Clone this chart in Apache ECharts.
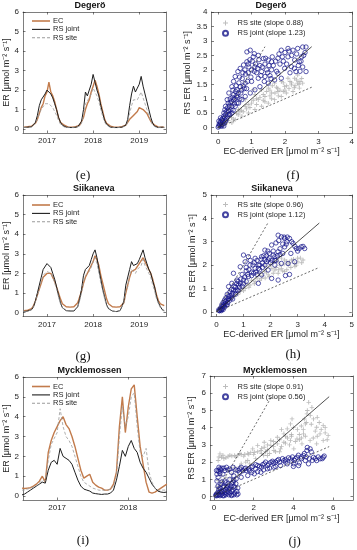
<!DOCTYPE html>
<html><head><meta charset="utf-8">
<script src="https://cdn.jsdelivr.net/npm/echarts@6/dist/echarts.min.js"></script>
<style>html,body{margin:0;padding:0;background:#fff}#c{width:357px;height:550px}</style>
</head><body><div id="c"></div>
<script>
// ---------- time axis: half-month steps starting at the given decimal year ----------
const STEP = 1 / 24;
const DEG_START = 2016.5;
const SIK_START = 2016.5;
const MYC_START = 2016.5;

// ---------- Degerö ER time series ----------
const DEG_EC = [0.1,0.1,0.12,0.1,0.15,0.2, 0.3,0.5,0.8,1.1,1.3,1.7, 1.9,2.4,1.9,1.7,1.4,1.0,
  0.6,0.35,0.25,0.2,0.15,0.1, 0.1,0.1,0.1,0.12,0.15,0.2, 0.3,0.6,1.0,1.3,1.5,1.9,
  2.2,2.5,2.2,1.8,1.3,0.9, 0.5,0.3,0.2,0.15,0.1,0.1, 0.1,0.1,0.1,0.12,0.15,0.2,
  0.3,0.5,0.6,0.7,0.8,0.9, 1.1,1.2,1.0,0.9,0.8,0.6, 0.4,0.3,0.2,0.15,0.1,0.1, 0.1,0.1];
const DEG_JOINT = [0.08,0.1,0.1,0.1,0.12,0.2, 0.35,0.7,1.2,1.5,1.4,1.8, 2.0,1.9,1.8,1.6,1.3,1.0,
  0.6,0.35,0.2,0.15,0.1,0.08, 0.08,0.1,0.08,0.1,0.12,0.2, 0.4,1.0,1.9,1.7,2.0,2.3,
  2.8,2.4,2.0,1.7,1.2,0.8, 0.45,0.25,0.15,0.1,0.08,0.08, 0.1,0.08,0.1,0.1,0.15,0.2,
  0.5,1.2,1.8,2.2,1.9,2.1, 2.3,2.7,2.2,1.8,1.4,1.0, 0.6,0.3,0.15,0.1,0.08,0.08, 0.1,0.08];
const DEG_SITE = [0.08,0.1,0.1,0.1,0.1,0.15, 0.3,0.5,0.8,1.0,1.1,1.3, 1.4,1.3,1.25,1.1,0.9,0.7,
  0.45,0.25,0.15,0.1,0.08,0.08, 0.08,0.08,0.08,0.1,0.1,0.15, 0.3,0.7,1.3,1.4,1.6,1.8,
  2.1,2.0,1.7,1.4,1.0,0.65, 0.35,0.2,0.1,0.08,0.08,0.08, 0.08,0.08,0.1,0.1,0.12,0.15,
  0.35,0.8,1.2,1.5,1.4,1.5, 1.7,1.9,1.6,1.3,1.0,0.7, 0.4,0.2,0.1,0.08,0.08,0.08, 0.08,0.08];

// ---------- Siikaneva ER time series ----------
const SIK_EC = [0.1,0.1,0.12,0.15,0.2,0.35, 0.6,0.9,1.2,1.5,1.8,1.9, 2.0,2.1,2.0,1.9,1.6,1.3,
  1.0,0.7,0.45,0.35,0.3,0.3, 0.28,0.3,0.3,0.35,0.5,0.8, 1.1,1.5,1.8,2.0,2.2,2.4,
  2.6,2.9,2.7,2.4,1.9,1.5, 1.1,0.7,0.45,0.35,0.3,0.3, 0.28,0.3,0.3,0.4,0.5,1.0,
  1.4,1.8,2.1,2.1,2.2,2.3, 2.5,2.6,2.8,2.6,2.4,2.2, 2.0,1.7,1.3,0.9,0.6,0.45, 0.35,0.35];
const SIK_JOINT = [0.05,0.05,0.08,0.1,0.15,0.3, 0.6,1.0,1.4,1.8,2.2,2.3, 2.5,2.6,2.3,2.0,1.7,1.3,
  0.9,0.5,0.25,0.15,0.1,0.08, 0.08,0.05,0.08,0.1,0.3,0.7, 1.2,1.9,2.2,2.3,2.4,2.7,
  3.0,3.2,2.8,2.2,1.7,1.2, 0.8,0.4,0.2,0.12,0.08,0.08, 0.05,0.08,0.1,0.3,0.6,1.4,
  1.5,2.2,2.6,2.4,2.3,2.5, 2.7,2.8,3.2,2.8,2.5,2.2, 2.0,1.6,1.3,0.8,0.5,0.3, 0.15,0.1];
const SIK_SITE = [0.05,0.05,0.08,0.1,0.15,0.3, 0.55,0.9,1.2,1.6,1.9,2.0, 2.1,2.2,2.0,1.8,1.5,1.2,
  0.8,0.45,0.25,0.15,0.1,0.08, 0.08,0.05,0.08,0.1,0.3,0.6, 1.0,1.6,1.9,2.0,2.1,2.3,
  2.6,2.8,2.5,2.0,1.5,1.1, 0.7,0.35,0.2,0.12,0.08,0.08, 0.05,0.08,0.1,0.3,0.5,1.1,
  1.3,1.9,2.2,2.1,2.0,2.2, 2.3,2.4,2.7,2.4,2.2,2.0, 1.8,1.4,1.1,0.7,0.45,0.25, 0.12,0.08];

// ---------- Mycklemossen ER time series ----------
const MYC_EC = [0.4,0.38,0.4,0.42,0.5,0.6, 0.75,1.0,0.7,2.2,2.8,3.2, 3.5,3.8,4.0,3.6,3.4,3.0,
  2.5,1.9,1.3,0.9,1.0,1.1, 0.7,0.55,0.45,0.4,0.3,0.3, 0.35,0.6,1.2,3.5,5.0,3.2,
  4.5,5.4,5.6,4.0,2.5,1.6, 0.7,0.2,0.15,0.2,0.3,0.4, 0.5,0.6];
const MYC_JOINT = [0.05,0.1,0.2,0.3,0.4,0.5, 0.6,0.7,0.65,1.3,1.7,1.8, 1.6,2.4,2.0,1.9,1.8,1.6,
  1.2,0.8,0.5,0.35,0.3,0.25, 0.15,0.12,0.1,0.08,0.1,0.1, 0.15,0.3,0.8,1.5,2.3,2.0,
  2.5,2.8,2.4,2.2,1.7,1.4, 1.2,0.9,0.6,0.4,0.25,0.2, 0.18,0.2];
const MYC_SITE = [0.3,0.3,0.35,0.4,0.45,0.5, 0.65,0.8,0.75,1.8,2.6,2.9, 3.2,4.4,3.5,3.0,2.8,2.5,
  2.0,1.5,1.0,0.7,0.6,0.5, 0.4,0.35,0.3,0.28,0.3,0.3, 0.35,0.5,1.0,3.0,4.5,3.5,
  4.0,5.0,5.2,3.5,2.2,2.0, 2.4,1.2,0.7,0.4,0.3,0.3, 0.3,0.3];

// ---------- scatter: [EC-derived ER, RS ER] ----------
const DEG_SC_SITE = [[0.32,0.4],[0.61,0.63],[0.81,0.74],[1.0,0.85],[1.2,0.97],[1.4,1.08],[1.6,1.2],[1.79,1.25],[1.99,1.42],[2.19,1.48],[2.38,1.54],[2.53,1.54],[2.43,1.37],[2.24,1.25],[2.04,1.2],[1.89,1.08],[1.69,0.97],[1.5,0.85],[1.3,0.74],[1.1,0.63],[0.91,0.51],[0.71,0.4],[0.51,0.28],[0.41,0.17],[1.69,1.54],[1.89,1.6],[2.09,1.71],[1.5,1.37],[1.3,1.31],[1.1,1.14],[2.29,1.71],[2.38,1.82],[0.22,0.17],[0.12,0.08],[0.81,0.97],[1.05,1.31],[0.05,0.03],[0.15,0.12],[0.25,0.2],[0.4,0.35],[0.55,0.5],[0.7,0.6],[0.9,0.8],[1.15,1.0],[1.35,1.15],[1.55,1.3],[1.75,1.4],[1.95,1.55],[2.15,1.6],[2.3,1.45],[2.45,1.6],[2.0,1.3],[1.8,1.1],[1.6,1.0],[1.4,0.9],
  [0.2,0.12],[0.3,0.25],[0.45,0.3],[0.6,0.45],[0.75,0.55],[0.95,0.7],[1.15,0.8],[1.35,0.95],[1.55,1.1],[1.7,1.2],[1.85,1.3],[2.05,1.45],[2.2,1.55],[2.35,1.65],[2.5,1.7],[2.42,1.5],[2.28,1.38],[2.12,1.35],[1.95,1.25],[1.78,1.35],[1.62,1.45],[1.45,1.25],[1.25,1.05],[1.05,0.95],[0.85,0.65],[0.65,0.55]];
const DEG_SC_JOINT = [[0.86,2.62],[0.96,2.68],[1.08,2.56],[1.2,2.5],[1.35,2.39],[1.5,2.34],[0.86,2.28],[0.76,2.17],[0.66,2.05],[0.59,1.94],[0.51,1.77],[0.46,1.6],[0.41,1.42],[0.32,1.2],[0.27,0.97],[0.22,0.74],[0.17,0.51],[0.1,0.28],[1.89,2.68],[2.09,2.74],[2.24,2.68],[2.38,2.74],[2.53,2.79],[2.63,2.79],[2.09,2.45],[2.29,2.34],[2.43,2.28],[2.53,2.1],[2.63,1.94],[2.33,1.94],[2.19,2.11],[1.1,2.1],[1.3,1.94],[1.4,1.77],[1.6,2.0],[1.79,1.88],[1.69,1.65],[1.5,1.54],[1.25,1.42],[1.1,1.31],[0.96,1.2],[0.81,1.08],[0.71,0.97],[0.56,0.85],[0.41,0.74],[0.32,0.57],[1.0,1.6],[0.81,1.54],[0.66,1.42],[0.56,1.31],[0.46,1.14],[1.2,1.71],[1.89,1.71],[1.99,2.05],[1.4,2.2],[1.6,2.28],[1.79,2.4],[0.02,0.06],[0.07,0.17],[0.12,0.11],[0.22,0.23],[0.07,0.34],[0.17,0.4],[0.32,0.46],[0.27,0.68],[0.36,0.85],[0.46,0.97],[0.02,0.23],[0,0.02],[0.41,0.51],[0.51,0.74],[0.61,0.85],[0.17,0.06],[0.05,0.1],[0.1,0.05],[0.15,0.2],[0.2,0.35],[0.25,0.3],[0.3,0.6],[0.35,0.45],[0.4,0.9],[0.45,0.6],[0.5,1.0],[0.55,1.1],[0.6,1.2],[0.65,1.0],[0.7,1.3],[0.75,1.45],[0.85,1.35],[0.9,1.9],[1.0,2.0],[0.95,2.35],[1.05,2.45],[1.15,1.9],[1.25,2.15],[1.45,2.0],[1.55,1.8],[1.65,2.15],[1.75,1.95],[1.85,2.2],[1.95,2.3],[2.05,2.2],[2.15,1.9],[2.2,2.5],[2.35,2.55],[2.45,1.95],[2.5,2.45],[2.6,2.6],
  [0.03,0.12],[0.08,0.08],[0.12,0.25],[0.18,0.15],[0.22,0.45],[0.28,0.38],[0.33,0.75],[0.38,0.62],[0.42,1.05],[0.48,0.82],[0.52,1.25],[0.58,1.05],[0.62,1.55],[0.68,1.2],[0.72,1.7],[0.78,1.35],[0.82,1.85],[0.88,1.6],[0.92,2.1],[0.98,1.75],[1.02,2.3],[1.08,1.95],[1.12,2.2],[1.18,2.05],[1.22,2.35],[1.28,1.8],[1.32,2.1],[1.38,1.6],[1.42,2.4],[1.48,1.9],[1.52,2.15],[1.58,1.7],[1.62,2.45],[1.72,2.3],[1.82,2.55],[1.92,2.45],[2.0,2.6],[2.12,2.65],[2.28,2.05],[2.4,2.15],[2.48,2.3],[2.56,2.5],[0.14,0.32],[0.24,0.55],[0.3,0.85],[0.36,1.0],[0.06,0.2],[0.2,0.62],[0.44,1.3],[0.54,1.45],[0.64,1.75],[0.74,1.9],[0.8,2.0],[0.9,2.2]];
const SIK_SC_SITE = [[2.28,2.14],[2.52,2.22],[2.77,2.22],[3.01,2.14],[3.2,2.22],[2.65,2.0],[2.89,2.07],[2.4,1.86],[2.16,1.79],[1.91,1.58],[1.67,1.43],[1.43,1.29],[1.24,1.15],[1.06,1.0],[0.88,0.87],[0.7,0.72],[0.51,0.58],[0.33,0.37],[0.18,0.2],[2.28,1.65],[2.52,1.72],[1.79,1.72],[1.55,1.65],[2.6,1.8],[2.95,2.0],[3.1,2.3],[2.4,2.3],[2.0,2.0],[1.8,1.95],[1.3,1.35],[1.1,1.2],[0.9,1.0],[0.6,0.65],[0.4,0.45],[0.25,0.25],[0.12,0.1],
  [1.5,1.45],[1.7,1.55],[1.85,1.7],[2.05,1.85],[2.2,1.9],[2.35,2.0],[2.5,2.05],[2.6,2.15],[2.7,2.1],[2.85,2.25],[3.0,2.3],[3.15,2.1],[2.9,1.95],[2.75,1.9],[2.45,1.75],[2.3,1.8],[2.1,1.65],[1.95,1.5],[1.8,1.45],[1.6,1.35],[1.4,1.2],[1.2,1.05],[1.0,0.9],[0.8,0.75]];
const SIK_SC_JOINT = [[1.0,2.43],[1.18,2.36],[1.43,2.29],[1.67,2.36],[1.79,2.64],[2.04,2.86],[2.28,3.28],[2.4,3.21],[2.52,3.14],[2.7,3.14],[2.83,2.93],[2.95,2.71],[3.13,2.78],[3.26,2.71],[2.52,2.78],[2.28,2.57],[2.1,2.43],[1.91,2.22],[1.79,2.0],[2.16,2.0],[2.4,2.07],[2.65,2.07],[2.89,2.14],[1.55,1.86],[1.37,1.65],[1.18,1.51],[1.0,1.36],[0.82,1.15],[0.63,0.94],[0.45,0.65],[0.33,0.44],[0.21,0.23],[0.09,0.09],[0.15,0.16],[0.27,0.3],[0.39,0.51],[0.57,0.72],[0.76,0.94],[0.88,1.22],[0.76,1.36],[0.57,1.22],[0.45,1.08],[0.63,1.65],[0.88,1.93],[1.06,2.14],[1.24,2.0],[1.43,1.86],[1.67,1.58],[1.91,1.79],[2.04,1.43],[2.28,1.36],[1.55,1.22],[1.79,2.22],[2.16,2.36],[0.1,0.05],[0.2,0.1],[0.25,0.4],[0.3,0.2],[0.35,0.6],[0.4,0.3],[0.5,0.5],[0.5,0.85],[0.6,0.55],[0.7,0.75],[0.7,1.05],[0.8,0.9],[0.95,1.1],[1.1,1.3],[1.1,1.75],[1.3,1.55],[1.5,1.6],[1.6,2.0],[1.7,2.1],[1.85,2.4],[1.95,2.5],[2.0,2.1],[2.2,2.2],[2.35,2.45],[2.45,2.9],[2.6,3.0],[2.75,2.5],[3.0,2.6],[2.55,1.55],[2.7,1.6],
  [0.12,0.05],[0.15,0.1],[0.18,0.05],[0.22,0.15],[0.25,0.1],[0.28,0.25],[0.32,0.35],[0.36,0.3],[0.42,0.4],[0.45,0.55],[0.5,0.7],[0.55,0.6],[0.6,0.8],[0.65,1.1],[0.7,0.9],[0.75,1.2],[0.8,1.3],[0.85,1.05],[0.9,1.4],[0.95,1.6],[1.0,1.2],[1.05,1.5],[1.1,1.9],[1.15,1.6],[1.2,1.8],[1.25,2.2],[1.3,1.7],[1.35,2.0],[1.4,2.1],[1.45,1.7],[1.5,2.2],[1.55,2.0],[1.6,1.8],[1.65,2.25],[1.7,1.9],[1.75,2.4],[1.85,2.15],[1.9,2.6],[1.95,2.3],[2.05,2.2],[2.1,2.6],[2.15,2.2],[2.2,2.95],[2.25,2.4],[2.3,3.05],[2.35,2.7],[2.45,2.5],[2.5,3.2],[2.58,2.9],[2.62,3.2],[2.78,3.0],[2.9,2.8],[3.05,2.7],[3.2,2.8],[0.55,0.95],[0.4,0.75],[0.3,0.5],[0.2,0.3]];
const MYC_SC_SITE = [[0.38,2.28],[0.71,2.32],[1.04,2.38],[1.37,2.44],[1.7,2.51],[2.03,2.57],[0.21,2.09],[0.3,2.48],[2.36,2.67],[2.53,2.86],[2.86,2.96],[3.19,3.06],[3.52,3.15],[3.85,3.25],[3.19,3.44],[3.52,3.64],[3.85,4.22],[3.93,4.51],[3.69,3.93],[4.18,3.35],[4.51,3.64],[4.6,4.22],[4.68,4.8],[4.77,5.47],[4.93,5.18],[5.01,4.51],[5.17,4.02],[5.5,4.12],[5.34,3.64],[4.84,3.25],[4.43,3.06],[4.02,2.77],[2.86,3.25],[2.53,3.15],[2.2,2.96],[1.95,2.77],[1.7,2.09],[1.37,1.9],[1.04,1.7],[0.71,1.51],[0.38,1.22],[0.21,0.93],[0.13,0.54],[0.55,0.64],[0.88,1.03],[2.69,2.38],[3.02,2.67],[3.35,2.77],[5.17,3.06],[5.5,3.25],[5.75,3.54],[0.15,0.2],[0.3,0.35],[0.5,0.3],[0.8,0.5],[1.0,0.8],[1.2,1.2],[1.5,1.5],[1.8,1.9],[2.1,2.2],[2.4,2.5],[2.7,2.7],[3.0,2.9],[3.3,3.3],[3.6,3.5],[3.9,3.6],[4.2,3.9],[4.4,4.1],[4.7,5.0],[5.3,4.3],[5.6,4.0],[3.4,3.9],[4.0,4.0],[3.8,3.0],[4.3,3.3],[4.6,3.5],[5.0,3.4],[0.5,2.2],[0.9,2.35],[1.2,2.4],[1.55,2.45],[1.85,2.55],[2.2,2.6],
  [2.5,2.4],[2.8,2.5],[3.1,2.6],[3.4,2.9],[3.6,3.1],[3.7,3.4],[3.9,3.5],[4.1,3.2],[4.3,3.6],[4.5,3.9],[4.55,4.5],[4.65,4.3],[4.85,4.7],[4.9,4.2],[5.1,3.8],[5.2,3.5],[5.4,3.9],[5.6,3.7],[5.7,3.3],[5.2,4.6],[4.4,3.4],[3.3,2.6],[3.0,3.2],[2.7,3.0],[2.4,2.8],[2.6,2.6],[0.25,2.3],[0.45,2.4],[0.6,2.25],[0.8,2.4],[1.1,2.3],[1.3,2.5],[1.5,2.35],[1.75,2.45],[2.0,2.45],[1.6,2.0],[1.3,1.75],[1.1,1.5],[0.9,1.3],[0.6,1.1],[0.4,0.9],[0.25,0.6]];
const MYC_SC_JOINT = [[0.13,0.15],[0.3,0.25],[0.55,0.15],[0.88,0.06],[1.21,0.15],[0.46,0.54],[0.71,0.74],[0.96,0.83],[1.12,1.03],[0.21,1.12],[0.13,1.51],[0.3,1.61],[0.55,1.51],[0.88,1.41],[1.21,1.51],[1.54,1.61],[1.87,1.7],[2.2,1.8],[2.53,1.9],[2.86,1.99],[3.19,2.09],[3.52,2.09],[3.85,2.19],[4.18,2.28],[4.51,2.38],[4.68,2.67],[4.84,2.77],[4.6,2.09],[5.01,2.28],[5.34,2.19],[5.5,2.28],[5.17,2.09],[4.76,1.9],[2.36,1.41],[2.69,1.61],[3.02,1.7],[3.35,1.8],[3.69,1.9],[4.02,1.9],[4.26,1.8],[2.03,1.32],[1.7,1.22],[1.37,1.12],[1.62,1.51],[1.37,1.7],[0.96,1.7],[0.63,1.7],[0.1,0.05],[0.2,0.1],[0.25,0.4],[0.35,0.1],[0.4,0.3],[0.5,0.05],[0.6,0.4],[0.65,0.2],[0.75,0.1],[0.8,0.45],[0.9,0.3],[1.0,0.1],[1.05,0.5],[1.15,0.3],[0.35,0.7],[0.55,0.9],[0.8,1.0],[0.2,0.6],[0.15,0.9],[0.45,1.3],[1.0,1.2],[1.3,1.4],[1.8,1.5],[2.1,1.6],[2.4,1.7],[2.7,1.8],[3.0,1.95],[3.3,2.0],[3.6,2.0],[3.9,2.05],[4.1,2.2],[4.4,2.2],[4.55,2.5],[4.9,2.6],[4.3,1.95],[4.0,1.75],[0.25,1.7],[0.4,1.65],
  [0.1,0.1],[0.15,0.05],[0.2,0.25],[0.25,0.1],[0.3,0.05],[0.35,0.3],[0.4,0.15],[0.45,0.05],[0.5,0.35],[0.55,0.25],[0.6,0.1],[0.65,0.5],[0.7,0.3],[0.75,0.45],[0.8,0.2],[0.85,0.6],[0.9,0.1],[0.95,0.4],[1.0,0.6],[1.05,0.2],[1.1,0.75],[1.15,0.1],[1.2,0.5],[0.3,0.5],[0.5,0.6],[0.7,0.6],[0.9,0.75],[1.0,0.95],[0.6,0.8],[0.4,0.85],[0.15,1.3],[0.2,1.5],[0.25,1.45],[0.3,1.35],[0.35,1.55],[0.5,1.65],[0.7,1.55],[0.8,1.6],[1.1,1.55],[1.3,1.6],[1.45,1.5],[1.6,1.65],[1.75,1.6],[1.95,1.75],[2.1,1.85],[2.3,1.75],[2.45,1.85],[2.6,2.0],[2.75,1.9],[2.95,2.05],[3.1,2.0],[3.25,2.15],[3.45,2.2],[3.6,2.15],[3.75,2.25],[3.95,2.3],[4.05,2.1],[4.25,2.4],[4.4,2.3],[4.65,2.3],[4.7,2.85],[4.8,2.2],[4.95,2.1],[5.1,2.2],[5.25,2.3],[5.45,2.2],[5.55,2.35],[1.9,1.4],[2.2,1.45],[2.5,1.55],[2.8,1.65],[3.1,1.75]];

// ---------- reference lines (1:1, 2:1, 1:2) ----------
const DEG_L11 = [[0,0],[2.8,2.8]], DEG_L21 = [[0,0],[1.4,2.8]], DEG_L12 = [[0,0],[2.8,1.4]];
const SIK_L11 = [[0,0],[3.8,3.8]], SIK_L21 = [[0,0],[1.9,3.8]], SIK_L12 = [[0,0],[3.8,1.9]];
const MYC_L11 = [[0,0],[5.8,5.8]], MYC_L21 = [[0,0],[2.9,5.8]], MYC_L12 = [[0,0],[5.8,2.9]];

// ---------- labels / ticks ----------
const SITES = ['Degerö', 'Siikaneva', 'Mycklemossen'];
const TS_NAMES = ['EC', 'RS joint', 'RS site'];
const SC_NAMES = [['RS site (slope 0.88)', 'RS joint (slope 1.23)'],
                  ['RS site (slope 0.96)', 'RS joint (slope 1.12)'],
                  ['RS site (slope 0.91)', 'RS joint (slope 0.56)']];
const PANEL_LABELS = ['(e)', '(f)', '(g)', '(h)', '(i)', '(j)'];
const YEARS3 = [2017, 2018, 2019];
const YEARS2 = [2017, 2018];
const Y_TS = [0, 1, 2, 3, 4, 5, 6];
const DEG_TICKS = [0, 0.5, 1, 1.5, 2, 2.5, 3, 3.5, 4];
const DEG_XTICKS = [0, 1, 2, 3, 4];
const SIK_TICKS = [0, 1, 2, 3, 4, 5];
const MYC_YTICKS = [0, 1, 2, 3, 4, 5, 6, 7];
const MYC_XTICKS = [0, 2, 4, 6];

// ---------- build ----------
const FONT = '"Liberation Sans", Arial, Helvetica, sans-serif';
const AX = '#262626';
const C_EC = '#c27b4c', C_JOINT = '#1e1e1e', C_SITE = '#9a9a9a';
const C_BLUE = '#15158a', C_GRAY = '#adadad';
const UNIT = ' [μmol m⁻² s⁻¹]';

const grids = [
  {left: 23, top: 12, width: 143, height: 121},
  {left: 211.5, top: 12, width: 141, height: 121.5},
  {left: 23, top: 195, width: 143, height: 121.5},
  {left: 211, top: 195, width: 141.5, height: 121.5},
  {left: 23, top: 377, width: 143, height: 123},
  {left: 210, top: 376, width: 143, height: 124}
];

const xAxes = [], yAxes = [], series = [], legends = [];
const lineStyleAx = {show: true, onZero: false, lineStyle: {color: AX, width: 0.6}};
const tick = vals => ({show: true, inside: true, length: 2.5, lineStyle: {color: AX, width: 0.6}, customValues: vals});
const fmt = v => String(v);

function addAxes(g, xr, xt, yr, yt, xname, yname, yGap) {
  xAxes.push({type: 'value', gridIndex: g, min: xr[0], max: xr[1], position: 'bottom',
    axisLine: lineStyleAx, axisTick: tick(xt), splitLine: {show: false},
    axisLabel: {customValues: xt, formatter: fmt, fontSize: 8, color: AX, margin: 4, fontFamily: FONT},
    name: xname, nameLocation: 'middle', nameGap: 14,
    nameTextStyle: {fontSize: 9, color: AX, fontFamily: FONT}});
  xAxes.push({type: 'value', gridIndex: g, min: xr[0], max: xr[1], position: 'top',
    axisLine: lineStyleAx, axisTick: tick(xt), splitLine: {show: false}, axisLabel: {show: false}});
  yAxes.push({type: 'value', gridIndex: g, min: yr[0], max: yr[1], position: 'left',
    axisLine: lineStyleAx, axisTick: tick(yt), splitLine: {show: false},
    axisLabel: {customValues: yt, formatter: fmt, fontSize: 8, color: AX, margin: 4, fontFamily: FONT},
    name: yname, nameLocation: 'middle', nameGap: yGap, nameRotate: 90,
    nameTextStyle: {fontSize: 9, color: AX, fontFamily: FONT}});
  yAxes.push({type: 'value', gridIndex: g, min: yr[0], max: yr[1], position: 'right',
    axisLine: lineStyleAx, axisTick: tick(yt), splitLine: {show: false}, axisLabel: {show: false}});
}

const pair = (start, arr) => arr.map((v, i) => [start + i * STEP, v]);

function timePanel(g, start, ec, joint, site) {
  const ax = {xAxisIndex: 2 * g, yAxisIndex: 2 * g};
  series.push({type: 'line', name: TS_NAMES[0], ...ax, data: pair(start, ec), symbol: 'none',
    lineStyle: {color: C_EC, width: 1.4}, itemStyle: {color: C_EC}});
  series.push({type: 'line', name: TS_NAMES[1], ...ax, data: pair(start, joint), symbol: 'none',
    lineStyle: {color: C_JOINT, width: 1.0}, itemStyle: {color: C_JOINT}});
  series.push({type: 'line', name: TS_NAMES[2], ...ax, data: pair(start, site), symbol: 'none',
    lineStyle: {color: C_SITE, width: 0.8, type: [3, 2]}, itemStyle: {color: C_SITE}});
}

const STAR = 'path://M4,0L6,0L6,4L10,4L10,6L6,6L6,10L4,10L4,6L0,6L0,4L4,4Z';
function scatterPanel(g, names, site, joint, l11, l21, l12) {
  const ax = {xAxisIndex: 2 * g, yAxisIndex: 2 * g};
  series.push({type: 'scatter', name: names[0], ...ax, data: site, symbol: STAR, symbolSize: 4.5,
    itemStyle: {color: C_GRAY}});
  series.push({type: 'scatter', name: names[1], ...ax, data: joint, symbol: 'circle', symbolSize: 4.4,
    itemStyle: {color: 'rgba(0,0,0,0)', borderColor: C_BLUE, borderWidth: 0.9}});
  series.push({type: 'line', ...ax, data: l11, symbol: 'none', lineStyle: {color: '#222', width: 0.8}});
  series.push({type: 'line', ...ax, data: l21, symbol: 'none', lineStyle: {color: '#444', width: 0.8, type: [2, 2]}});
  series.push({type: 'line', ...ax, data: l12, symbol: 'none', lineStyle: {color: '#444', width: 0.8, type: [2, 2]}});
}

addAxes(0, [2016.48, 2019.58], YEARS3, [-0.2, 6], Y_TS, '', 'ER' + UNIT, 8);
addAxes(1, [-0.2, 4], DEG_XTICKS, [-0.2, 4], DEG_TICKS, 'EC-derived ER' + UNIT, 'RS ER' + UNIT, 14);
addAxes(2, [2016.48, 2019.58], YEARS3, [-0.2, 6], Y_TS, '', 'ER' + UNIT, 8);
addAxes(3, [-0.2, 5], SIK_TICKS, [-0.2, 5], SIK_TICKS, 'EC-derived ER' + UNIT, 'RS ER' + UNIT, 14);
addAxes(4, [2016.52, 2018.53], YEARS2, [-0.2, 6], Y_TS, '', 'ER' + UNIT, 8);
addAxes(5, [-0.2, 7], MYC_XTICKS, [-0.2, 7], MYC_YTICKS, 'EC-derived ER' + UNIT, 'RS ER' + UNIT, 14);

timePanel(0, DEG_START, DEG_EC, DEG_JOINT, DEG_SITE);
scatterPanel(1, SC_NAMES[0], DEG_SC_SITE, DEG_SC_JOINT, DEG_L11, DEG_L21, DEG_L12);
timePanel(2, SIK_START, SIK_EC, SIK_JOINT, SIK_SITE);
scatterPanel(3, SC_NAMES[1], SIK_SC_SITE, SIK_SC_JOINT, SIK_L11, SIK_L21, SIK_L12);
timePanel(4, MYC_START, MYC_EC, MYC_JOINT, MYC_SITE);
scatterPanel(5, SC_NAMES[2], MYC_SC_SITE, MYC_SC_JOINT, MYC_L11, MYC_L21, MYC_L12);

const ICON_EC = 'path://M0,0h18v1.6h-18z';
const ICON_JOINT = 'path://M0,0h18v1.1h-18z';
const ICON_SITE = 'path://M0,0h3v1h-3zM5,0h3v1h-3zM10,0h3v1h-3zM15,0h3v1h-3z';
const legText = {fontSize: 7.5, color: AX, fontFamily: FONT, padding: [0, 0, 0, -2]};
const tsLegendData = [{name: TS_NAMES[0], icon: ICON_EC}, {name: TS_NAMES[1], icon: ICON_JOINT}, {name: TS_NAMES[2], icon: ICON_SITE}];
[17, 201, 382.5].forEach(top => legends.push({data: tsLegendData, orient: 'vertical', left: 32, top,
  itemWidth: 18, itemHeight: 8, itemGap: 0.4, padding: 0, textStyle: legText, selectedMode: false,
  symbolKeepAspect: true}));
[[19, 0], [200.5, 1], [382.5, 2]].forEach(([top, k]) => legends.push({
  data: [{name: SC_NAMES[k][0], icon: STAR}, {name: SC_NAMES[k][1]}],
  orient: 'vertical', left: 222, top,
  itemWidth: 12, itemHeight: 5, itemGap: 2.3, padding: 0, textStyle: {...legText, padding: [0, 0, 0, 1]}, selectedMode: false}));

const graphics = [];
const TITLE_POS = [[90, 6], [271, 6], [93.7, 189], [272, 189], [89.5, 371], [275, 371]];
TITLE_POS.forEach(([x, y], i) => graphics.push({type: 'text', x, y,
  style: {text: SITES[Math.floor(i / 2)], textAlign: 'center', textVerticalAlign: 'middle',
    font: 'bold 9px ' + FONT, fill: '#111'}}));
const LABEL_POS = [[83, 176], [293, 176], [83, 357], [293, 355], [83, 541], [294.7, 541.5]];
LABEL_POS.forEach(([x, y], i) => graphics.push({type: 'text', x, y,
  style: {text: PANEL_LABELS[i], textAlign: 'center', textVerticalAlign: 'middle',
    font: '13px "Liberation Serif", "Times New Roman", serif', fill: '#111'}}));

const chart = echarts.init(document.getElementById('c'), null, {renderer: 'canvas'});
chart.setOption({
  animation: false,
  backgroundColor: '#fff',
  grid: grids,
  xAxis: xAxes,
  yAxis: yAxes,
  legend: legends,
  series,
  graphic: graphics
});
</script></body></html>
